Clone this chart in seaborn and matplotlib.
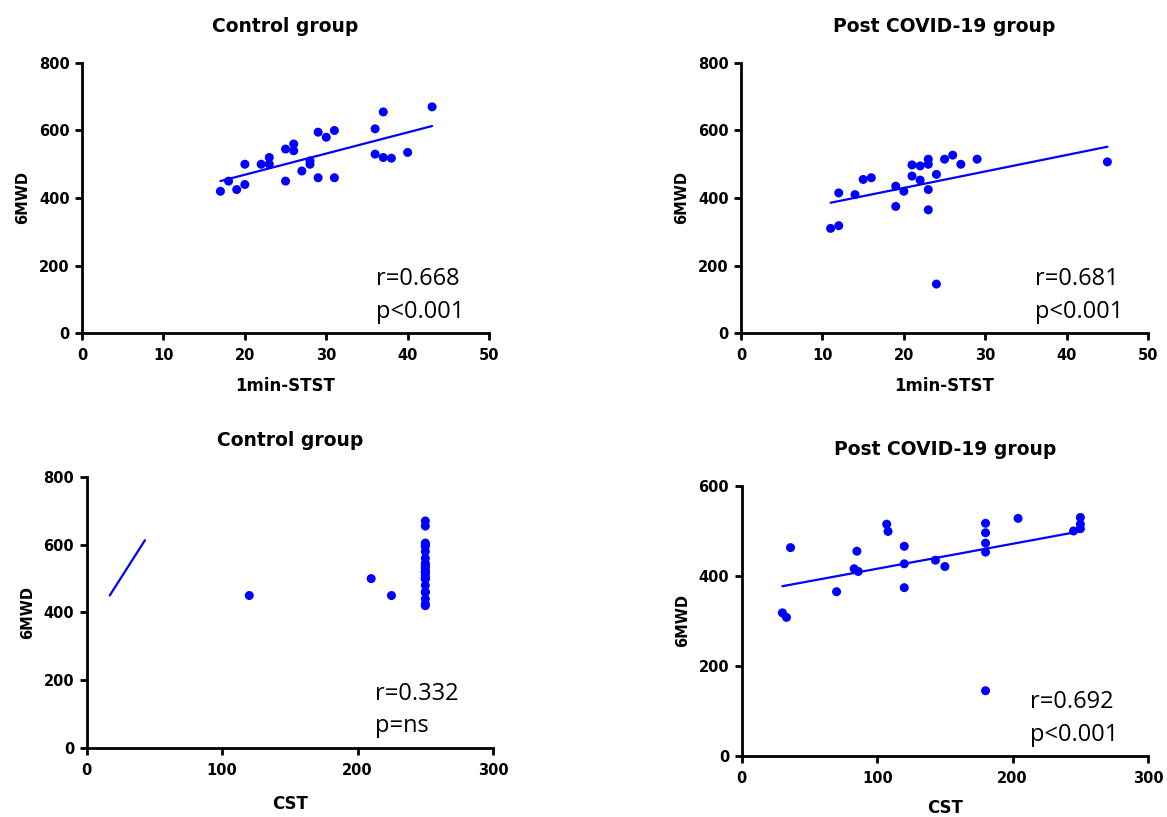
import matplotlib
matplotlib.use("Agg")
import matplotlib.pyplot as plt
import seaborn as sns
import pandas as pd

# ---------------------------
# Data
# ---------------------------
# Control group: 1min-STST vs 6MWD
ctrl_stst = [17, 18, 19, 20, 20, 22, 23, 23, 25, 26, 26, 25, 27, 28,
             28, 29, 29, 30, 31, 31, 36, 37, 36, 37, 38, 40, 43]
ctrl_6mwd = [420, 450, 425, 440, 500, 500, 520, 500, 545, 560, 540, 450, 480, 500,
             510, 595, 460, 580, 600, 460, 605, 655, 530, 520, 518, 535, 670]
# Control group: CST (same subjects, same order)
ctrl_cst = [250, 120, 250, 250, 250, 210, 250, 250, 250, 250, 250, 225, 250, 250,
            250, 250, 250, 250, 250, 250, 250, 250, 250, 250, 250, 250, 250]

# Post COVID-19 group: 1min-STST vs 6MWD
covid_stst = [11, 12, 12, 14, 15, 16, 19, 19, 20, 21, 21, 22,
              22, 23, 23, 23, 23, 24, 24, 25, 26, 27, 29, 45]
covid_stst_6mwd = [310, 318, 415, 410, 455, 460, 435, 375, 420, 498, 465, 495,
                   453, 515, 500, 425, 365, 470, 145, 515, 527, 500, 515, 507]

# Post COVID-19 group: CST vs 6MWD
covid_cst = [30, 33, 36, 70, 85, 83, 86, 107, 108, 120, 120, 120,
             143, 150, 180, 180, 180, 180, 180, 204, 250, 250, 250, 245]
covid_cst_6mwd = [318, 308, 463, 365, 455, 416, 410, 515, 499, 466, 427, 374,
                  435, 421, 517, 496, 473, 453, 145, 528, 530, 515, 505, 500]

stats_text = ["r=0.668\np<0.001", "r=0.681\np<0.001",
              "r=0.332\np=ns", "r=0.692\np<0.001"]
titles = ["Control group", "Post COVID-19 group", "Control group", "Post COVID-19 group"]

# ---------------------------
# Style
# ---------------------------
sns.set_theme(style="ticks")
plt.rcParams["font.family"] = ["DejaVu Sans"]
plt.rcParams["font.weight"] = "bold"
plt.rcParams["axes.labelweight"] = "bold"
plt.rcParams["axes.titleweight"] = "bold"
plt.rcParams["text.color"] = "black"
plt.rcParams["axes.labelcolor"] = "black"
plt.rcParams["xtick.color"] = "black"
plt.rcParams["ytick.color"] = "black"

BLUE = "#0000FF"

fig = plt.figure(figsize=(11.67, 8.17), dpi=100)
ax1 = fig.add_axes([0.0703, 0.5924, 0.3488, 0.3305])
ax2 = fig.add_axes([0.6350, 0.5924, 0.3488, 0.3305])
ax3 = fig.add_axes([0.0743, 0.0845, 0.3482, 0.3317])
ax4 = fig.add_axes([0.6356, 0.0747, 0.3482, 0.3305])

panels = [
    (ax1, ctrl_stst, ctrl_6mwd, "1min-STST", (0, 50), 10, (0, 800)),
    (ax2, covid_stst, covid_stst_6mwd, "1min-STST", (0, 50), 10, (0, 800)),
    (ax3, ctrl_cst, ctrl_6mwd, "CST", (0, 300), 100, (0, 800)),
    (ax4, covid_cst, covid_cst_6mwd, "CST", (0, 300), 100, (0, 600)),
]
xlabel_pads = [10, 10, 12, 9]

for i, (ax, xs, ys, xlab, xlim, xstep, ylim) in enumerate(panels):
    df = pd.DataFrame({"x": xs, "y": ys})
    sns.scatterplot(data=df, x="x", y="y", ax=ax, color=BLUE, s=42,
                    edgecolor="none", clip_on=False, zorder=3)

    # regression line (the control/CST panel reuses the 1min-STST fit, as in the original)
    if i == 2:
        sns.regplot(x=ctrl_stst, y=ctrl_6mwd, ax=ax, scatter=False, ci=None,
                    color=BLUE, line_kws={"lw": 1.6})
    else:
        sns.regplot(data=df, x="x", y="y", ax=ax, scatter=False, ci=None,
                    color=BLUE, line_kws={"lw": 1.6})

    ax.set_xlim(*xlim)
    ax.set_ylim(*ylim)
    ax.set_xticks(range(xlim[0], xlim[1] + 1, xstep))
    ax.set_yticks(range(ylim[0], ylim[1] + 1, 200))

    sns.despine(ax=ax)
    for side in ["left", "bottom"]:
        ax.spines[side].set_linewidth(2.0)
        ax.spines[side].set_color("black")
    ax.tick_params(axis="both", width=2.0, length=5, color="black",
                   labelcolor="black", labelsize=10.5, direction="out")
    ax.tick_params(axis="x", pad=6)
    ax.tick_params(axis="y", pad=4)

    ax.set_title(titles[i], fontsize=13.5, pad=22, color="black")
    ax.set_xlabel(xlab, fontsize=12, labelpad=xlabel_pads[i], color="black")
    ax.set_ylabel("6MWD", fontsize=10.5, labelpad=6, color="black")
    ax.grid(False)

    ax.text(0.722 if i < 2 else 0.71, 0.035, stats_text[i], transform=ax.transAxes,
            ha="left", va="bottom", fontsize=17, fontweight="normal", color="black",
            family=["Open Sans", "DejaVu Sans"], linespacing=1.45)

plt.savefig("out.png", dpi=100)
plt.close()
